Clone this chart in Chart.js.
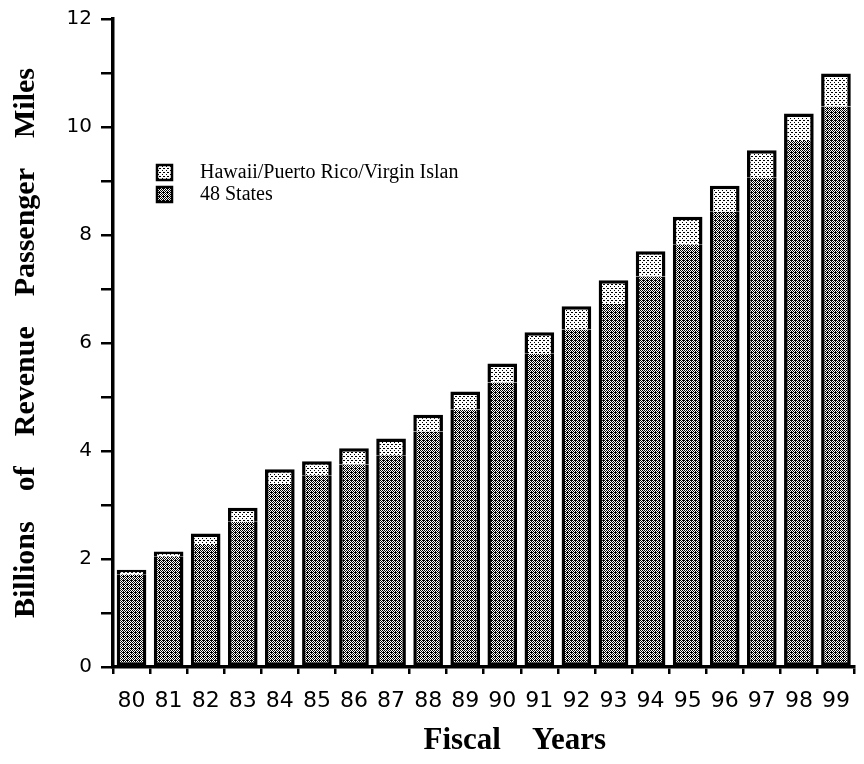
<!DOCTYPE html>
<html>
<head>
<meta charset="utf-8">
<script src="https://cdn.jsdelivr.net/npm/chart.js@4"></script>
<style>
  html, body { margin: 0; padding: 0; background: #fff; }
  #wrap { width: 864px; height: 764px; }
</style>
</head>
<body>
<div id="wrap"><canvas id="rpmChart" width="864" height="764"></canvas></div>
<script>
const years = ["80","81","82","83","84","85","86","87","88","89","90","91","92","93","94","95","96","97","98","99"];
const states48 = [1.71, 2.04, 2.26, 2.69, 3.39, 3.55, 3.75, 3.92, 4.36, 4.77, 5.27, 5.80, 6.25, 6.72, 7.23, 7.82, 8.43, 9.06, 9.74, 10.38];
const hawaiiEtc = [0.09, 0.10, 0.21, 0.26, 0.27, 0.26, 0.30, 0.31, 0.31, 0.33, 0.35, 0.40, 0.43, 0.44, 0.47, 0.52, 0.48, 0.51, 0.51, 0.61];

// halftone fills
function makePattern(cells, size) {
  const c = document.createElement("canvas");
  c.width = size; c.height = size;
  const g = c.getContext("2d");
  g.fillStyle = "#fff";
  g.fillRect(0, 0, size, size);
  g.fillStyle = "#000";
  cells.forEach(p => g.fillRect(p[0], p[1], 1, 1));
  return g.createPattern(c, "repeat");
}
const darkFill = makePattern([[0,0],[2,0],[1,1],[3,1],[0,2],[2,2],[1,3],[3,3],[3,0]], 4);
const lightFill = makePattern([[0,0],[2,2],[3,0]], 4);

// legend drawn inside the plot, like the original
const innerLegend = {
  id: "innerLegend",
  afterDraw(chart) {
    const g = chart.ctx;
    const items = [chart.data.datasets[1], chart.data.datasets[0]];
    g.save();
    g.font = "20px 'Liberation Serif', 'Times New Roman', serif";
    g.textBaseline = "middle";
    items.forEach((ds, i) => {
      const y = 172 + i * 22;
      g.fillStyle = ds.backgroundColor;
      g.fillRect(157, y - 7, 15, 15);
      g.lineWidth = 2.5;
      g.strokeStyle = "#000";
      g.strokeRect(157, y - 7, 15, 15);
      g.fillStyle = "#000";
      g.fillText(ds.label, 200, y + 1);
    });
    g.restore();
  }
};

new Chart(document.getElementById("rpmChart"), {
  type: "bar",
  data: {
    labels: years,
    datasets: [
      {
        label: "48 States",
        data: states48,
        backgroundColor: darkFill,
        borderColor: "#000",
        borderWidth: 3.5,
        borderSkipped: "top",
        barPercentage: 0.8,
        categoryPercentage: 1
      },
      {
        label: "Hawaii/Puerto Rico/Virgin Islan",
        data: hawaiiEtc,
        backgroundColor: lightFill,
        borderColor: "#000",
        borderWidth: 3.5,
        borderSkipped: "bottom",
        barPercentage: 0.8,
        categoryPercentage: 1
      }
    ]
  },
  options: {
    responsive: false,
    animation: false,
    layout: { padding: { top: 0, right: 2, left: 0, bottom: 0 } },
    plugins: {
      legend: { display: false },
      tooltip: { enabled: false }
    },
    scales: {
      x: {
        stacked: true,
        grid: { drawOnChartArea: false, color: "#000", lineWidth: 2.5, tickLength: 7 },
        border: { color: "#000", width: 3.5 },
        ticks: {
          color: "#000",
          font: { family: "'DejaVu Sans', sans-serif", size: 22 },
          padding: 14,
          maxRotation: 0,
          autoSkip: false
        },
        title: {
          display: true,
          text: "        Fiscal    Years",
          color: "#000",
          font: { family: "'Liberation Serif', 'Times New Roman', serif", size: 31, weight: "bold" },
          padding: { top: 16 }
        },
        afterFit(scale) { scale.height = 97; }
      },
      y: {
        stacked: true,
        min: 0,
        max: 12,
        ticks: {
          stepSize: 1,
          color: "#000",
          font: { family: "'DejaVu Sans', sans-serif", size: 20, lineHeight: 1 },
          padding: 9,
          callback: v => (v % 2 === 0 ? v : "")
        },
        grid: { drawOnChartArea: false, color: "#000", lineWidth: 2.5, tickLength: 12 },
        border: { color: "#000", width: 3.5 },
        title: {
          display: true,
          text: "Billions    of    Revenue    Passenger    Miles",
          color: "#000",
          font: { family: "'Liberation Serif', 'Times New Roman', serif", size: 30, weight: "bold" },
          padding: { top: 8 }
        },
        afterFit(scale) { scale.width = 113; }
      }
    }
  },
  plugins: [innerLegend]
});
</script>
</body>
</html>
